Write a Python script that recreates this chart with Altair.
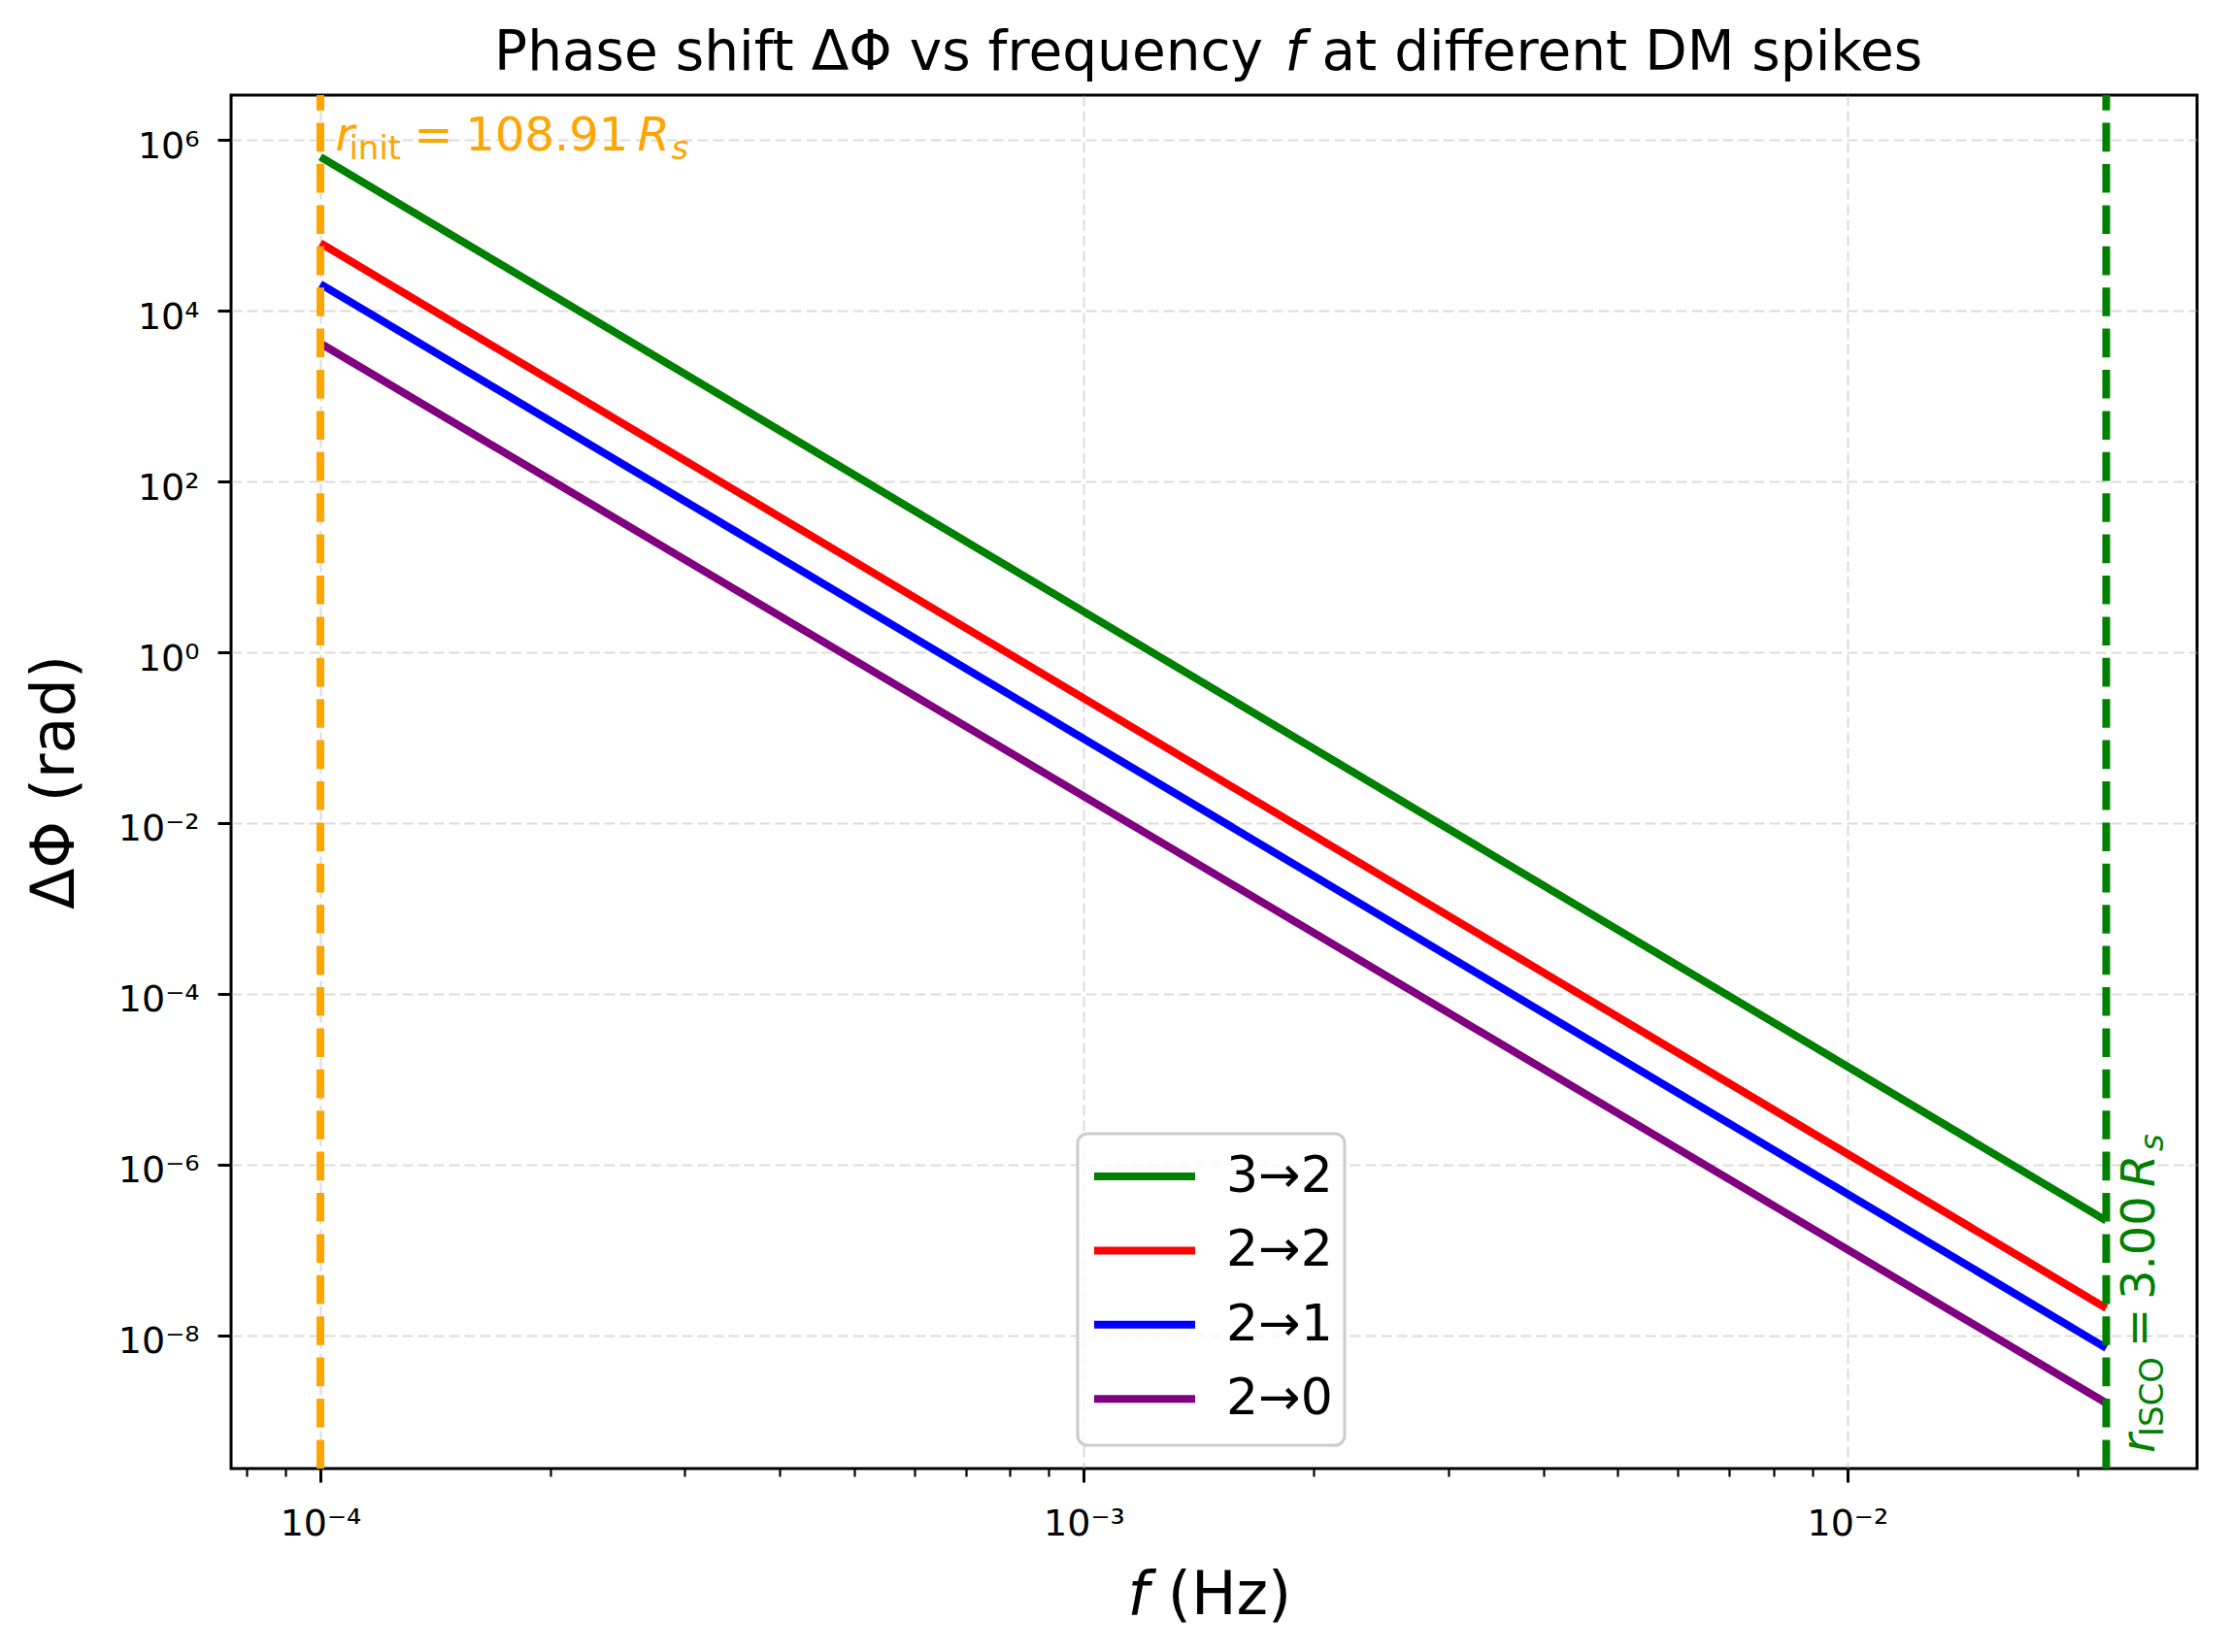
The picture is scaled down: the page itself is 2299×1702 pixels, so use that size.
import json
import altair as alt
import pandas as pd

# ---------------- data ----------------
series_names = ["3→2", "2→2", "2→1", "2→0"]
series_colors = ["#008000", "#ff0000", "#0000ff", "#800080"]
freq_start = 1e-4
freq_end = 0.02183
phase_start = [6.31e5, 6.18e4, 2.05e4, 4.14e3]
phase_end = [2.21e-7, 2.09e-8, 7.13e-9, 1.62e-9]

f_init = 1e-4
f_isco = 0.02183

x_major_values = [1e-4, 1e-3, 1e-2]
x_major_labels = ["10⁻⁴", "10⁻³", "10⁻²"]
x_minor_values = [8e-5, 9e-5, 2e-4, 3e-4, 4e-4, 5e-4, 6e-4, 7e-4, 8e-4, 9e-4,
                  2e-3, 3e-3, 4e-3, 5e-3, 6e-3, 7e-3, 8e-3, 9e-3, 2e-2]
y_major_values = [1e-8, 1e-6, 1e-4, 1e-2, 1.0, 1e2, 1e4, 1e6]
y_major_labels = ["10⁻⁸", "10⁻⁶", "10⁻⁴", "10⁻²", "10⁰", "10²", "10⁴", "10⁶"]
x_domain = [7.638e-5, 0.02871]
y_domain = [2.773e-10, 3.334e6]

title_parts = ["Phase shift ΔΦ vs frequency", "f", "at different DM spikes"]
x_title_parts = ["f", "(Hz)"]
y_title = "ΔΦ (rad)"
# (text, font size, style, offset along text, baseline shift)
init_label = [("r", 48, "italic", 15.4, 0), ("init", 34, "normal", 29.4, 9),
              ("=", 48, "normal", 96.4, 0), ("108.91", 48, "normal", 149.4, 0),
              ("R", 48, "italic", 326.4, 0), ("s", 34, "italic", 361.4, 9)]
isco_label = [("r", 48, "italic", 0, 50), ("ISCO", 34, "normal", 17, 59),
              ("=", 48, "normal", 109, 50), ("3.00", 48, "normal", 158, 50),
              ("R", 48, "italic", 274, 50), ("s", 34, "italic", 311, 59)]

# ---------------- layout ----------------
W, H = 2025, 1415
FONT = "DejaVu Sans"

rows = []
for name, p0, p1 in zip(series_names, phase_start, phase_end):
    rows.append({"series": name, "f": freq_start, "phi": p0})
    rows.append({"series": name, "f": freq_end, "phi": p1})
df_lines = pd.DataFrame(rows)

xvals = json.dumps(x_major_values)
xlabs = json.dumps(x_major_labels, ensure_ascii=False)
xtest = f"indexof({xvals}, datum.value) >= 0"
x_label_expr = f"{xtest} ? {xlabs}[indexof({xvals}, datum.value)] : ''"

yvals = json.dumps(y_major_values)
ylabs = json.dumps(y_major_labels, ensure_ascii=False)
y_label_expr = f"indexof({yvals}, datum.value) >= 0 ? {ylabs}[indexof({yvals}, datum.value)] : ''"

xscale = alt.Scale(type="log", domain=x_domain, nice=False)
yscale = alt.Scale(type="log", domain=y_domain, nice=False)

xaxis = alt.Axis(
    values=x_major_values + x_minor_values,
    labelExpr=x_label_expr,
    title=None,
    domain=False,
    tickColor="black",
    tickSize={"condition": {"test": xtest, "value": 14}, "value": 8},
    tickWidth={"condition": {"test": xtest, "value": 3}, "value": 2.2},
    labelFont=FONT, labelFontSize=38, labelColor="black",
    labelPadding=24, labelFlush=False, labelOverlap=False,
    grid=True, gridColor="#b0b0b0",
    gridOpacity={"condition": {"test": xtest, "value": 0.45}, "value": 0},
    gridDash=[11, 5], gridWidth=2,
)
yaxis = alt.Axis(
    values=y_major_values,
    labelExpr=y_label_expr,
    title=y_title,
    titleFont=FONT, titleFontSize=62, titleFontWeight="normal", titleColor="black",
    titleAngle=270, titleAlign="center", titleBaseline="alphabetic",
    titleX=-163, titleY=H / 2,
    domain=False,
    tickColor="black", tickSize=14, tickWidth=3,
    labelFont=FONT, labelFontSize=38, labelColor="black",
    labelPadding=19, labelOffset=7, labelFlush=False, labelOverlap=False,
    grid=True, gridColor="#b0b0b0", gridOpacity=0.45, gridDash=[11, 5], gridWidth=2,
)


def xenc():
    return alt.X("f:Q", scale=xscale, axis=xaxis)


legend = alt.Legend(
    title=None, orient="none", legendX=872, legendY=1071, padding=13,
    symbolType="M-1,0H3", symbolSize=2704, symbolStrokeWidth=8,
    labelFont=FONT, labelFontSize=52, labelColor="black", labelOffset=80,
    rowPadding=20.4, labelLimit=400,
)

lines = alt.Chart(df_lines).mark_line(strokeWidth=8).encode(
    x=xenc(),
    y=alt.Y("phi:Q", scale=yscale, axis=yaxis),
    color=alt.Color("series:N", scale=alt.Scale(domain=series_names, range=series_colors),
                    legend=legend),
)

rule_init = alt.Chart(pd.DataFrame({"f": [f_init]})).mark_rule(
    color="#ffa500", strokeWidth=8, strokeDash=[29.6, 12.8]
).encode(x=xenc(), y=alt.value(H), y2=alt.value(0))

rule_isco = alt.Chart(pd.DataFrame({"f": [f_isco]})).mark_rule(
    color="#008000", strokeWidth=8, strokeDash=[29.6, 12.8]
).encode(x=xenc(), y=alt.value(H), y2=alt.value(0))

legend_box = alt.Chart(pd.DataFrame({"k": [0]})).mark_rect(
    fill="white", fillOpacity=0.8, stroke="#cccccc", strokeWidth=3, cornerRadius=10
).encode(x=alt.value(872), x2=alt.value(1147), y=alt.value(1070), y2=alt.value(1391))

layers = [lines, legend_box, rule_init, rule_isco]

# annotation r_init
for text, size, style, dx, dy in init_label:
    layers.append(
        alt.Chart(pd.DataFrame({"f": [f_init]})).mark_text(
            text=text, font=FONT, fontSize=size, fontStyle=style, color="#ffa500",
            align="left", baseline="alphabetic", dx=dx, dy=dy,
        ).encode(x=xenc(), y=alt.value(57))
    )

# annotation r_ISCO (rotated)
for text, size, style, dx, dy in isco_label:
    layers.append(
        alt.Chart(pd.DataFrame({"f": [f_isco]})).mark_text(
            text=text, font=FONT, fontSize=size, fontStyle=style, color="#008000",
            align="left", baseline="alphabetic", angle=270, dx=dx, dy=dy,
        ).encode(x=xenc(), y=alt.value(1399))
    )

one = pd.DataFrame({"k": [0]})
# chart title
layers.append(alt.Chart(one).mark_text(
    text=title_parts[0], font=FONT, fontSize=56.5, color="black",
    align="right", baseline="alphabetic").encode(x=alt.value(1063), y=alt.value(-26.3)))
layers.append(alt.Chart(one).mark_text(
    text=title_parts[1], font=FONT, fontSize=56.5, fontStyle="italic", color="black",
    align="center", baseline="alphabetic").encode(x=alt.value(1095.5), y=alt.value(-26.3)))
layers.append(alt.Chart(one).mark_text(
    text=title_parts[2], font=FONT, fontSize=56.5, color="black",
    align="left", baseline="alphabetic").encode(x=alt.value(1123.5), y=alt.value(-26.3)))

# x axis title
layers.append(alt.Chart(one).mark_text(
    text=x_title_parts[0], font=FONT, fontSize=62, fontStyle="italic", color="black",
    align="center", baseline="alphabetic").encode(x=alt.value(934.5), y=alt.value(1565)))
layers.append(alt.Chart(one).mark_text(
    text=x_title_parts[1], font=FONT, fontSize=62, color="black",
    align="left", baseline="alphabetic").encode(x=alt.value(964.7), y=alt.value(1565)))

chart = alt.layer(*layers).properties(
    width=W, height=H,
    autosize=alt.AutoSizeParams(type="none"),
    padding={"left": 230, "top": 90, "right": 20, "bottom": 170},
).configure(font=FONT).configure_view(stroke="black", strokeWidth=3)

chart.save("out.html", embed_options={"renderer": "svg", "actions": False})
